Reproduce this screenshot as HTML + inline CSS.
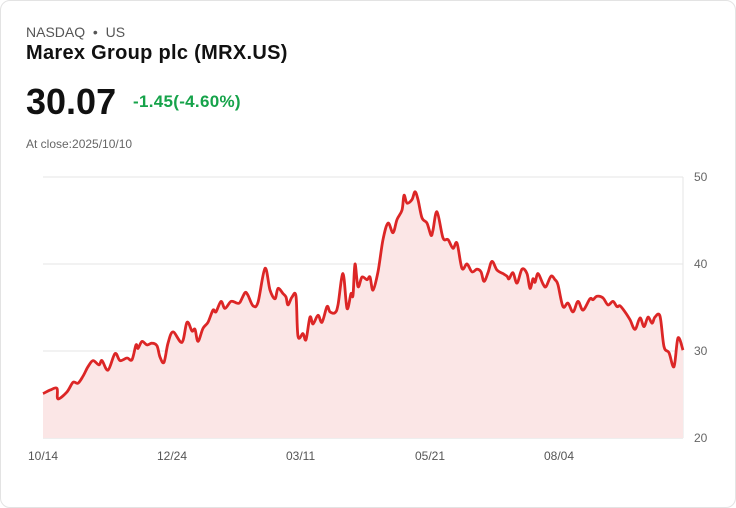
<!DOCTYPE html>
<html><head><meta charset="utf-8"><style>
body{margin:0;background:#fff;font-family:"Liberation Sans",sans-serif;}
.card{position:absolute;left:0;top:0;width:734px;height:506px;border:1px solid #e3e3e3;border-radius:10px;background:#fff;}
.t{position:absolute;white-space:nowrap;}
</style></head><body>
<div class="card">
<div class="t" style="left:25px;top:23px;font-size:14px;color:#555">NASDAQ &nbsp;•&nbsp; US</div>
<div class="t" style="left:25px;top:41px;font-size:20px;font-weight:bold;color:#111;letter-spacing:0.3px">Marex Group plc (MRX.US)</div>
<div class="t" style="left:25px;top:80px;font-size:36px;font-weight:bold;color:#111">30.07</div>
<div class="t" style="left:132px;top:91px;font-size:17px;color:#16a34a;font-weight:bold;letter-spacing:0.3px">-1.45(-4.60%)</div>
<div class="t" style="left:25px;top:136px;font-size:12px;color:#666">At close:2025/10/10</div>
<svg id="chart" width="736" height="508" style="position:absolute;left:-1px;top:-1px"></svg>
</div>
<script>
const days=[0,7,14,15,24,30,35,40,45,50,56,59,65,72,77,84,89,93,95,99,104,109,114,117,121,125,130,139,144,149,152,155,160,165,170,173,178,182,188,194,197,202,205,210,215,222,227,232,235,240,243,245,249,253,255,260,263,267,270,275,279,284,287,292,295,300,304,308,310,312,315,319,324,327,330,335,340,345,350,354,359,361,364,369,372,375,379,384,388,390,394,400,405,410,414,419,424,429,434,438,441,445,449,454,460,464,466,470,474,479,484,487,490,492,495,500,503,508,512,515,520,525,530,535,540,547,550,554,560,565,570,574,577,582,587,592,597,601,605,609,612,617,621,626,631,635,640];
const prices=[25.1,25.5,25.7,24.5,25.3,26.4,26.3,27.1,28.2,28.9,28.4,28.9,27.8,29.7,28.9,29.2,29.0,30.7,30.3,31.1,30.7,30.9,30.6,29.3,28.7,30.9,32.2,31.0,33.3,32.3,32.5,31.1,32.6,33.3,34.7,34.5,35.7,34.9,35.7,35.5,35.6,36.7,36.4,35.2,35.6,39.5,37.0,36.0,37.2,36.6,36.2,35.3,36.2,36.3,31.7,32.0,31.3,33.9,33.1,34.1,33.3,35.1,34.5,34.4,35.3,38.9,34.9,36.6,36.4,40.0,37.4,38.5,38.2,38.5,37.0,39.1,42.8,44.7,43.6,45.1,46.2,47.9,47.0,47.4,48.3,47.4,45.3,44.7,43.3,43.9,46.0,43.0,42.8,41.8,42.4,39.5,40.0,39.1,39.4,39.1,38.0,39.0,40.3,39.3,38.9,38.6,38.3,39.0,37.8,39.4,38.9,37.2,38.3,37.9,38.9,37.7,37.4,38.6,38.2,37.6,35.1,35.5,34.5,35.7,34.7,36.0,35.9,36.3,36.1,35.3,35.7,35.1,35.2,34.5,33.6,32.5,33.8,32.8,33.9,33.2,33.9,34.0,30.5,29.8,28.2,31.5,30.1];
const yTicks=[20,30,40,50];
const xLabels=['10/14','12/24','03/11','05/21','08/04'];
const xLabelDays=[0,129,258,387,516];
const NS='http://www.w3.org/2000/svg';
const svg=document.getElementById('chart');
const X0=43,X1=683,Y0=438,Y1=177;
const xs=d=>X0+(d/640)*(X1-X0);
const ys=v=>Y0-(v-20)/30*(Y0-Y1);
function mk(t,a){const e=document.createElementNS(NS,t);for(const k in a)e.setAttribute(k,a[k]);svg.appendChild(e);return e;}
yTicks.forEach(v=>{
 const l=mk('line',{x1:X0,x2:X1,y1:ys(v),y2:ys(v),stroke:v===20?'#dcdcdc':'#e6e6e6','stroke-width':1});
 
 
 const t=mk('text',{x:694,y:ys(v)+4,'font-size':12,fill:'#666','font-family':'Liberation Sans'});
 t.textContent=v;
 
 
});
const ax=mk('line',{x1:X1,x2:X1,y1:Y1,y2:Y0,stroke:'#e6e6e6'});


xLabels.forEach((s,i)=>{
 const t=mk('text',{x:xs(xLabelDays[i])-15,y:460,'font-size':12,fill:'#555','font-family':'Liberation Sans'});
 t.textContent=s;
 
 
});
const P=days.map((d,i)=>[xs(d),ys(prices[i])]);
let dpath='M'+P[0][0].toFixed(1)+','+P[0][1].toFixed(1);
for(let i=0;i<P.length-1;i++){
 const p0=P[Math.max(0,i-1)],p1=P[i],p2=P[i+1],p3=P[Math.min(P.length-1,i+2)];
 const k=1/6;
 const c1=[p1[0]+(p2[0]-p0[0])*k,p1[1]+(p2[1]-p0[1])*k];
 const c2=[p2[0]-(p3[0]-p1[0])*k,p2[1]-(p3[1]-p1[1])*k];
 dpath+=' C'+c1.map(v=>v.toFixed(1)).join(',')+' '+c2.map(v=>v.toFixed(1)).join(',')+' '+p2.map(v=>v.toFixed(1)).join(',');
}
const area=mk('path',{d:dpath+' L'+P[P.length-1][0]+','+Y0+' L'+P[0][0]+','+Y0+' Z',fill:'#fbe6e6'});


const line=mk('path',{d:dpath,fill:'none',stroke:'#dc2626','stroke-width':2.8,'stroke-linejoin':'round'});


</script>
</body></html>
